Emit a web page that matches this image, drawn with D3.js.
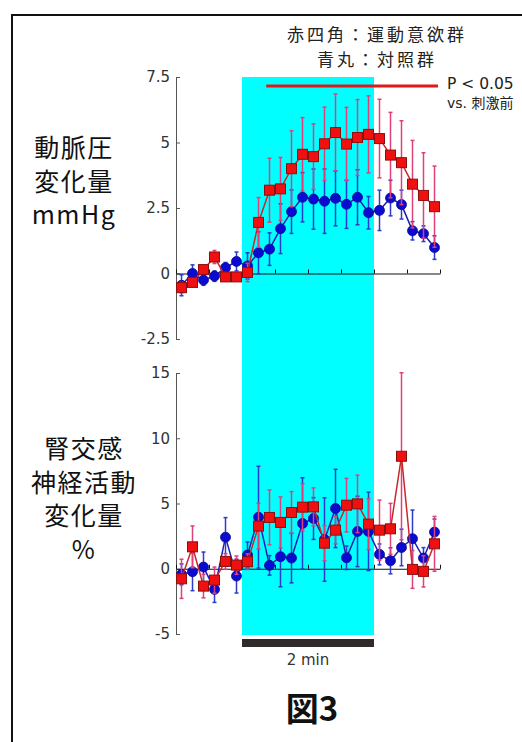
<!DOCTYPE html>
<html>
<head>
<meta charset="utf-8">
<script src="https://cdn.jsdelivr.net/npm/d3@7"></script>
<style>
    body { margin: 0; background: #fff; }
    text { font-family: "DejaVu Sans", "Noto Sans CJK JP", sans-serif; }
    .jp { font-family: "Noto Sans CJK JP", sans-serif; }
</style>
</head>
<body>
<div id="chart"></div>
<script>
// time points, 10 s each (24 bins)
const bins = d3.range(24);

// 動脈圧 (mmHg)
const bpRed = [-0.54, -0.34, 0.15, 0.63, -0.13, -0.13, 0.04, 1.95, 3.18, 3.23, 4.0, 4.55,
    4.46, 4.95, 5.38, 4.94, 5.19, 5.31, 5.15, 4.52, 4.23, 3.41, 2.98, 2.55];
const bpRedErr = [0.2, 0.15, 0.15, 0.25, 0.15, 0.15, 0.35, 0.95, 1.22, 1.2, 1.45, 1.4,
    1.25, 1.4, 1.47, 1.4, 1.45, 1.47, 1.5, 1.63, 1.6, 1.67, 1.63, 1.55];
const bpBlue = [-0.45, 0.0, -0.25, -0.1, 0.22, 0.46, 0.29, 0.79, 0.93, 1.71, 2.36, 2.91,
    2.84, 2.76, 2.87, 2.64, 2.91, 2.32, 2.41, 2.88, 2.63, 1.63, 1.52, 0.99];
const bpBlueErr = [0.4, 0.33, 0.2, 0.2, 0.2, 0.36, 0.5, 0.8, 0.62, 0.95, 0.83, 0.94,
    1.15, 1.23, 1.05, 0.92, 1.05, 0.62, 0.77, 0.68, 0.55, 0.35, 0.3, 0.45];

// 腎交感神経活動 (%)
const snaRed = [-0.77, 1.68, -1.33, -0.87, 0.56, 0.28, 0.54, 3.27, 3.93, 3.55, 4.31, 4.72,
    4.74, 1.96, 2.96, 4.87, 4.97, 3.42, 2.96, 3.06, 8.62, -0.05, -0.2, 1.91];
const snaRedErr = [1.5, 1.6, 0.9, 1.0, 0.6, 0.7, 0.6, 1.75, 2.1, 1.95, 1.6, 1.8,
    1.45, 1.35, 1.05, 2.05, 2.2, 1.95, 2.3, 1.95, 6.4, 1.45, 1.2, 2.1];
const snaBlue = [-0.43, -0.23, 0.13, -1.58, 2.42, -0.56, 1.05, 3.95, 0.26, 0.92, 0.82, 3.47,
    3.85, 2.24, 4.62, 0.84, 2.86, 2.86, 1.1, 0.61, 1.63, 2.3, 0.82, 2.81];
const snaBlueErr = [0.8, 1.45, 1.15, 1.0, 1.5, 1.3, 1.0, 3.9, 0.75, 2.3, 1.9, 3.5,
    1.6, 3.2, 3.0, 0.9, 2.7, 3.0, 0.8, 1.0, 1.4, 2.2, 0.8, 1.0];

const bpTicks = [-2.5, 0, 2.5, 5, 7.5];
const snaTicks = [-5, 0, 5, 10, 15];
const timeTicks = [-0.5, 2.5, 5.5, 8.5, 11.5, 14.5, 17.5, 20.5, 23.5];
const stimPeriod = [5.5, 17.5];
const sigPeriod = [7.7, 23.5];

const width = 522, height = 742;

const svg = d3.select("#chart").append("svg")
    .attr("width", width)
    .attr("height", height);

svg.append("rect").attr("width", width).attr("height", height).attr("fill", "#fff");

// frame
svg.append("path")
    .attr("d", "M12,742V15H522")
    .attr("fill", "none")
    .attr("stroke", "#111")
    .attr("stroke-width", 2);

const x = d3.scaleLinear().domain([-0.5, 23.5]).range([176, 440]);
const yBp = d3.scaleLinear().domain([-2.5, 7.5]).range([339, 77]);
const ySna = d3.scaleLinear().domain([-5, 15]).range([634, 373]);

// stimulation period
svg.append("rect")
    .attr("x", x(stimPeriod[0]))
    .attr("y", yBp(7.5))
    .attr("width", x(stimPeriod[1]) - x(stimPeriod[0]))
    .attr("height", ySna(-5) + 1 - yBp(7.5))
    .attr("fill", "#00ffff");

svg.append("rect")
    .attr("x", x(stimPeriod[0]))
    .attr("y", 639)
    .attr("width", x(stimPeriod[1]) - x(stimPeriod[0]))
    .attr("height", 8)
    .attr("fill", "#302a2a");

svg.append("text")
    .attr("x", (x(stimPeriod[0]) + x(stimPeriod[1])) / 2)
    .attr("y", 665)
    .attr("text-anchor", "middle")
    .style("font-size", "15px")
    .attr("fill", "#333")
    .text("2 min");

function drawPanel(y, ticks, red, redErr, blue, blueErr) {
    const yAxis = svg.append("g")
        .attr("transform", `translate(${x(-0.5)},0)`)
        .call(d3.axisLeft(y).tickValues(ticks).tickFormat(d => String(d))
            .tickSize(-4).tickSizeOuter(-4).tickPadding(6));
    yAxis.selectAll("path, line").attr("stroke", "#555");
    yAxis.selectAll("text")
        .style("font-size", "15px")
        .style("font-family", "'DejaVu Sans', sans-serif")
        .attr("fill", "#333");

    // zero line
    const xAxis = svg.append("g")
        .attr("transform", `translate(0,${y(0)})`)
        .call(d3.axisBottom(x).tickValues(timeTicks).tickSize(-4).tickSizeOuter(0).tickFormat(""));
    xAxis.selectAll("path, line").attr("stroke", "#111");

    const series = [
        { vals: blue, err: blueErr, line: "#2020b0", bar: "#2a3cc8", fill: "#0a0ad0", stroke: "#0a0a90", shape: "circle" },
        { vals: red, err: redErr, line: "#c82828", bar: "#e0407a", fill: "#f01010", stroke: "#8a1010", shape: "square" }
    ];

    series.forEach(s => {
        const g = svg.append("g");
        const bars = g.selectAll(".err").data(bins).enter().append("g");
        bars.append("line")
            .attr("x1", d => x(d)).attr("x2", d => x(d))
            .attr("y1", d => y(s.vals[d] - s.err[d]))
            .attr("y2", d => y(s.vals[d] + s.err[d]))
            .attr("stroke", s.bar).attr("stroke-width", 1.5);
        [-1, 1].forEach(sign => {
            bars.append("line")
                .attr("x1", d => x(d) - 2).attr("x2", d => x(d) + 2)
                .attr("y1", d => y(s.vals[d] + sign * s.err[d]))
                .attr("y2", d => y(s.vals[d] + sign * s.err[d]))
                .attr("stroke", s.bar).attr("stroke-width", 1.5);
        });

        g.append("path")
            .datum(bins)
            .attr("fill", "none")
            .attr("stroke", s.line)
            .attr("stroke-width", 1.5)
            .attr("d", d3.line().x(d => x(d)).y(d => y(s.vals[d])));

        if (s.shape === "circle") {
            g.selectAll("circle").data(bins).enter().append("circle")
                .attr("cx", d => x(d))
                .attr("cy", d => y(s.vals[d]))
                .attr("r", 5)
                .attr("fill", s.fill)
                .attr("stroke", s.stroke)
                .attr("stroke-width", 0.8);
        } else {
            g.selectAll("rect").data(bins).enter().append("rect")
                .attr("x", d => x(d) - 5)
                .attr("y", d => y(s.vals[d]) - 5)
                .attr("width", 10)
                .attr("height", 10)
                .attr("fill", s.fill)
                .attr("stroke", s.stroke)
                .attr("stroke-width", 1);
        }
    });
}

drawPanel(yBp, bpTicks, bpRed, bpRedErr, bpBlue, bpBlueErr);
drawPanel(ySna, snaTicks, snaRed, snaRedErr, snaBlue, snaBlueErr);

// significance line
svg.append("line")
    .attr("x1", x(sigPeriod[0])).attr("x2", x(sigPeriod[1]) - 2)
    .attr("y1", 86).attr("y2", 86)
    .attr("stroke", "#e01818")
    .attr("stroke-width", 3);

svg.append("text")
    .attr("x", 447).attr("y", 89)
    .style("font-size", "15.5px").attr("fill", "#222")
    .text("P < 0.05");

svg.append("text")
    .attr("x", 447).attr("y", 108)
    .style("font-size", "14px").attr("fill", "#222")
    .text("vs. 刺激前");

// legend
const legendLines = ["赤四角：運動意欲群", "青丸：対照群"];
svg.selectAll(".legend").data(legendLines).enter().append("text")
    .attr("class", "jp")
    .attr("x", 377)
    .attr("y", (d, i) => 41 + i * 25)
    .attr("text-anchor", "middle")
    .style("font-size", "17px")
    .style("letter-spacing", "3px")
    .attr("fill", "#222")
    .text(d => d);

// y titles
const bpTitle = ["動脈圧", "変化量", "mmHg"];
const snaTitle = ["腎交感", "神経活動", "変化量", "%"];

svg.selectAll(".bpTitle").data(bpTitle).enter().append("text")
    .attr("class", "jp")
    .attr("x", 74)
    .attr("y", (d, i) => 157 + i * 33.5)
    .attr("text-anchor", "middle")
    .style("font-size", "25px")
    .style("letter-spacing", "1.5px")
    .attr("fill", "#111")
    .text(d => d);

svg.selectAll(".snaTitle").data(snaTitle).enter().append("text")
    .attr("class", "jp")
    .attr("x", 84)
    .attr("y", (d, i) => 458 + i * 33.5)
    .attr("text-anchor", "middle")
    .style("font-size", "25px")
    .style("letter-spacing", "1.5px")
    .attr("fill", "#111")
    .text(d => d);

svg.append("text")
    .attr("class", "jp")
    .attr("x", 312).attr("y", 721)
    .attr("text-anchor", "middle")
    .style("font-size", "33px")
    .attr("font-weight", "bold")
    .attr("fill", "#111")
    .text("図3");
</script>
</body>
</html>
